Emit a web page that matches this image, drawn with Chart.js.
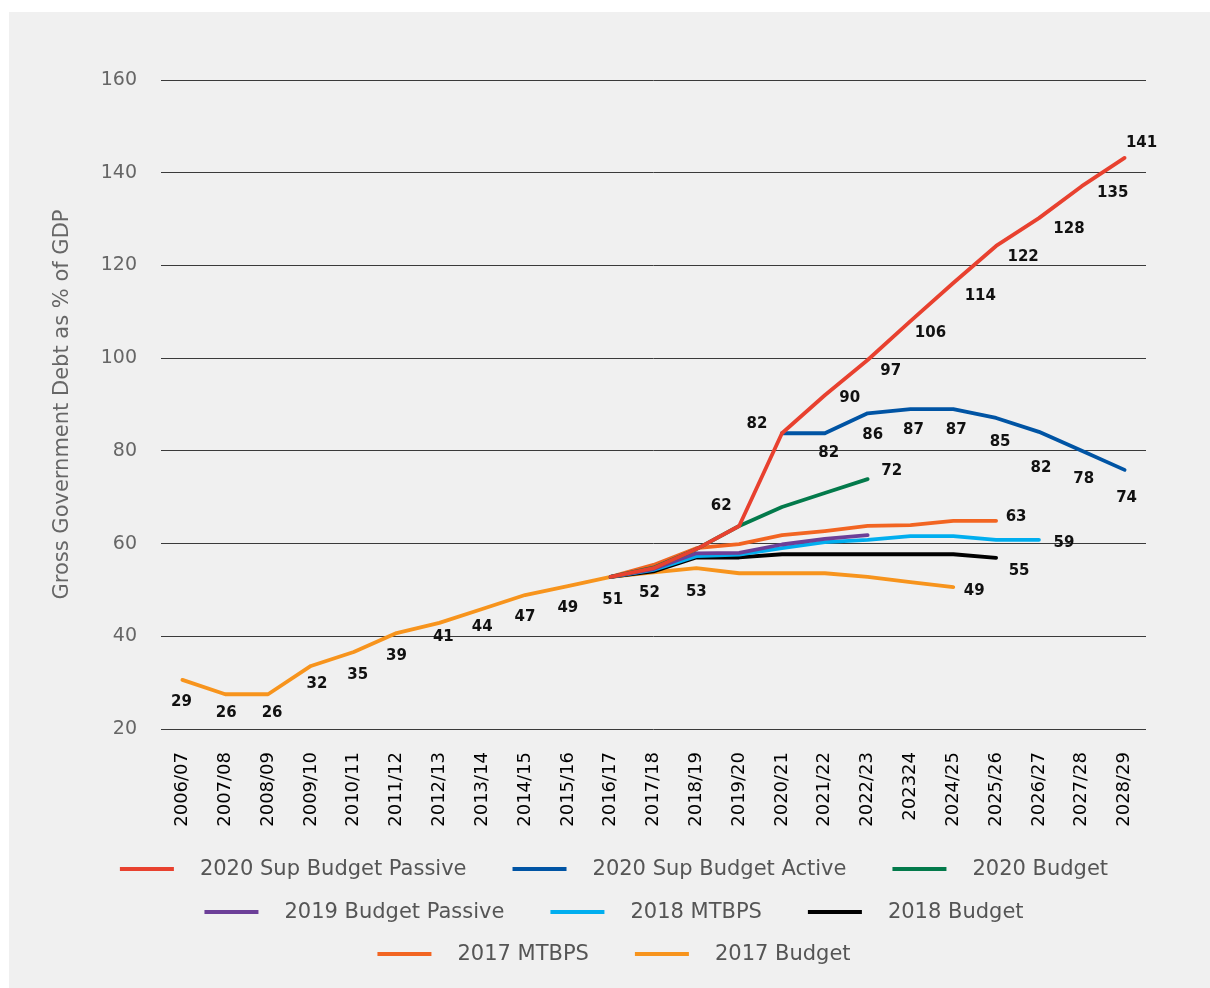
<!DOCTYPE html>
<html>
<head>
<meta charset="utf-8">
<script src="https://cdn.jsdelivr.net/npm/chart.js@4.4.1/dist/chart.umd.min.js"></script>
<style>
  html, body { margin: 0; padding: 0; background: #ffffff; }
  #panel { position: absolute; left: 9px; top: 12px; width: 1201px; height: 976px; background: #f0f0f0; }
  canvas { display: block; }
</style>
</head>
<body>
<div id="panel"><canvas id="debtChart" width="1201" height="976"></canvas></div>
<script>
// financial years on the x axis (the "202324" typo is in the original)
const years = ['2006/07', '2007/08', '2008/09', '2009/10', '2010/11', '2011/12', '2012/13',
  '2013/14', '2014/15', '2015/16', '2016/17', '2017/18', '2018/19', '2019/20', '2020/21',
  '2021/22', '2022/23', '202324', '2024/25', '2025/26', '2026/27', '2027/28', '2028/29'];

const yTicks = [20, 40, 60, 80, 100, 120, 140, 160];

const n = null;

// line values (as plotted)
const supPassive2020 = [n, n, n, n, n, n, n, n, n, n, 52.8, 54.7, 58.8, 63.8, 83.8, 92.0, 99.6, 108.0, 116.2, 124.2, 130.2, 137.1, 143.2];
const supActive2020 = [n, n, n, n, n, n, n, n, n, n, n, n, n, n, 83.8, 83.8, 88.1, 89.0, 89.0, 87.1, 84.1, 80.0, 75.9];
const budget2020 = [n, n, n, n, n, n, n, n, n, n, 52.8, 54.8, 58.8, 63.8, 67.9, 70.9, 73.9, n, n, n, n, n, n];
const budgetPassive2019 = [n, n, n, n, n, n, n, n, n, n, 52.8, 54.5, 57.9, 58.0, 59.8, 61.0, 61.8, n, n, n, n, n, n];
const mtbps2018 = [n, n, n, n, n, n, n, n, n, n, 52.8, 54.3, 57.3, 57.6, 59.0, 60.3, 60.8, 61.6, 61.6, 60.8, 60.8, n, n];
const budget2018 = [n, n, n, n, n, n, n, n, n, n, 52.8, 54.0, 57.0, 57.0, 57.7, 57.7, 57.7, 57.7, 57.7, 56.9, n, n, n];
const mtbps2017 = [n, n, n, n, n, n, n, n, n, n, 52.8, 55.4, 59.0, 59.9, 61.8, 62.7, 63.8, 64.0, 64.9, 64.9, n, n, n];
const budget2017 = [30.6, 27.5, 27.5, 33.6, 36.6, 40.7, 42.9, 45.9, 48.9, 50.8, 52.8, 53.8, 54.7, 53.6, 53.6, 53.6, 52.8, 51.7, 50.6, n, n, n, n];

// data labels printed next to the lines
const supPassive2020Labels = [n, n, n, n, n, n, n, n, n, n, n, n, n, '62', '82', '90', '97', '106', '114', '122', '128', '135', '141'];
const supActive2020Labels = [n, n, n, n, n, n, n, n, n, n, n, n, n, n, n, '82', '86', '87', '87', '85', '82', '78', '74'];
const budget2020Labels = [n, n, n, n, n, n, n, n, n, n, n, n, n, n, n, n, '72', n, n, n, n, n, n];
const budgetPassive2019Labels = [];
const mtbps2018Labels = [n, n, n, n, n, n, n, n, n, n, n, n, n, n, n, n, n, n, n, n, '59', n, n];
const budget2018Labels = [n, n, n, n, n, n, n, n, n, n, n, n, n, n, n, n, n, n, n, '55', n, n, n];
const mtbps2017Labels = [n, n, n, n, n, n, n, n, n, n, n, n, n, n, n, n, n, n, n, '63', n, n, n];
const budget2017Labels = ['29', '26', '26', '32', '35', '39', '41', '44', '47', '49', '51', '52', '53', n, n, n, n, n, '49', n, n, n, n];

const seriesNames = ['2020 Sup Budget Passive', '2020 Sup Budget Active', '2020 Budget',
  '2019 Budget Passive', '2018 MTBPS', '2018 Budget', '2017 MTBPS', '2017 Budget'];
const seriesValues = [supPassive2020, supActive2020, budget2020, budgetPassive2019, mtbps2018, budget2018, mtbps2017, budget2017];
const seriesLabels = [supPassive2020Labels, supActive2020Labels, budget2020Labels, budgetPassive2019Labels,
  mtbps2018Labels, budget2018Labels, mtbps2017Labels, budget2017Labels];
const seriesColors = ['#e8412f', '#0054a4', '#037a4b', '#6c3f98', '#00aeef', '#000000', '#f26522', '#f7941d'];

const FONT = '"DejaVu Sans", sans-serif';

// label offsets from their point, by series index then point index
const labelOffsets = [
  {13: [-18, -20], 14: [-25, -9], 15: [25, 3], 16: [23, 11], 17: [20, 12], 18: [27, 13], 19: [27, 11], 20: [30, 11], 21: [31, 7], 22: [17, -15]},
  {15: [4, 20], 16: [5, 22], 17: [3, 21], 18: [3, 21], 19: [4, 24], 20: [2, 36], 21: [2, 28], 22: [2, 28]},
  {16: [24, -8]},
  {},
  {20: [25, 3]},
  {19: [23, 13]},
  {19: [20, -4]},
  {0: [-1, 22], 1: [1, 19], 2: [4, 19], 3: [6, 18], 4: [4, 23], 5: [0, 23], 6: [4, 14], 7: [0, 18], 8: [0, 22], 9: [0, 22], 10: [2, 23], 11: [-4, 21], 12: [0, 24], 18: [21, 4]}
];

const pointLabelPlugin = {
  id: 'pointLabels',
  afterDatasetsDraw(chart) {
    const ctx = chart.ctx;
    ctx.save();
    ctx.font = 'bold 15px ' + FONT;
    ctx.fillStyle = '#111111';
    ctx.textAlign = 'center';
    ctx.textBaseline = 'middle';
    chart.data.datasets.forEach((ds, di) => {
      const meta = chart.getDatasetMeta(di);
      const offs = labelOffsets[di] || {};
      (ds.pointLabels || []).forEach((txt, i) => {
        if (!txt) return;
        const pt = meta.data[i];
        const o = offs[i] || [0, 21];
        ctx.fillText(txt, pt.x + o[0], pt.y + o[1]);
      });
    });
    ctx.restore();
  }
};

// legend in three centred rows
const legendRows = [[0, 1, 2], [3, 4, 5], [6, 7]];
const legendPlugin = {
  id: 'rowLegend',
  afterDraw(chart) {
    const ctx = chart.ctx;
    const rowY = [857, 900, 942];
    const lineW = 54, gap = 26, spacing = 46, centreX = 605;
    ctx.save();
    ctx.font = '21px ' + FONT;
    ctx.textBaseline = 'middle';
    ctx.textAlign = 'left';
    legendRows.forEach((row, r) => {
      const widths = row.map(i => lineW + gap + ctx.measureText(seriesNames[i]).width);
      const total = widths.reduce((a, b) => a + b, 0) + spacing * (row.length - 1);
      let x = centreX - total / 2;
      row.forEach((i, k) => {
        const y = rowY[r];
        ctx.strokeStyle = seriesColors[i];
        ctx.lineWidth = 4;
        ctx.beginPath();
        ctx.moveTo(x, y);
        ctx.lineTo(x + lineW, y);
        ctx.stroke();
        ctx.fillStyle = '#555555';
        ctx.fillText(seriesNames[i], x + lineW + gap, y + 1);
        x += widths[k] + spacing;
      });
    });
    ctx.restore();
  }
};

const datasets = seriesNames.map((name, i) => ({
  label: name,
  data: seriesValues[i],
  pointLabels: seriesLabels[i],
  borderColor: seriesColors[i],
  backgroundColor: seriesColors[i],
  borderWidth: 3.8,
  borderCapStyle: 'round',
  borderJoinStyle: 'round',
  pointRadius: 0,
  tension: 0,
  fill: false
}));

new Chart(document.getElementById('debtChart').getContext('2d'), {
  type: 'line',
  data: { labels: years, datasets: datasets },
  options: {
    responsive: false,
    animation: false,
    layout: { padding: { top: 68, right: 64, bottom: 150, left: 0 } },
    plugins: {
      legend: { display: false },
      tooltip: { enabled: false }
    },
    scales: {
      x: {
        offset: true,
        grid: { display: false, drawTicks: false },
        border: { display: false },
        ticks: {
          autoSkip: false,
          minRotation: 90,
          maxRotation: 90,
          padding: 23,
          color: '#000000',
          font: { family: FONT, size: 18 }
        },
        afterFit(scale) { scale.height = 109; }
      },
      y: {
        min: 20,
        max: 160,
        afterBuildTicks(scale) { scale.ticks = yTicks.map(v => ({ value: v })); },
        grid: { color: '#3a3a3a', lineWidth: 1, drawTicks: false },
        border: { display: false },
        ticks: {
          padding: 24,
          color: '#666666',
          font: { family: FONT, size: 19 }
        },
        title: {
          display: true,
          text: 'Gross Government Debt as % of GDP',
          color: '#666666',
          font: { family: FONT, size: 21 },
          padding: { top: 41, bottom: 0 }
        },
        afterFit(scale) { scale.width = 152; }
      }
    }
  },
  plugins: [pointLabelPlugin, legendPlugin]
});
</script>
</body>
</html>
